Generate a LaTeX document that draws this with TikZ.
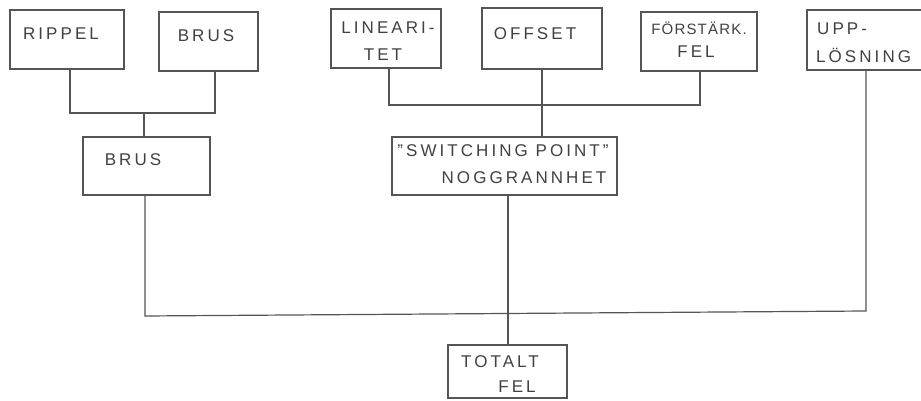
\documentclass[tikz,border=0pt]{standalone}
\usepackage{fontspec}
\setmainfont{Liberation Sans}[LetterSpace=18]
\definecolor{linegray}{RGB}{85,85,85}
\definecolor{textgray}{RGB}{65,65,65}
\begin{document}
\begin{tikzpicture}[x=1pt,y=-1pt,
  box/.style={draw=linegray, line width=1.7pt, inner sep=0pt},
  wire/.style={draw=linegray, line width=1.2pt},
  lbl/.style={text=textgray, font=\fontsize{17}{17}\selectfont, inner sep=0pt},
  smalllbl/.style={text=textgray, font=\fontsize{15}{15}\selectfont\addfontfeature{LetterSpace=8}, inner sep=0pt}]
\useasboundingbox[fill=white] (0,0) rectangle (921,401);

% boxes
\node[box, minimum width=114pt, minimum height=59pt] (rippel) at (67,39.5) {};
\node[box, minimum width=99pt,  minimum height=59pt] (brusA)  at (208.5,41.5) {};
\node[box, minimum width=110pt, minimum height=59pt] (lin)    at (386,38.5) {};
\node[box, minimum width=120pt, minimum height=61pt] (offset) at (542,38.5) {};
\node[box, minimum width=116pt, minimum height=59pt] (forst)  at (699,41.5) {};
\node[box, minimum width=153pt, minimum height=60pt] (upp)    at (883.5,40) {};
\node[box, minimum width=127pt, minimum height=58pt] (brusB)  at (146.5,166) {};
\node[box, minimum width=225pt, minimum height=58pt] (switch) at (504.5,166) {};
\node[box, minimum width=119pt, minimum height=53pt] (totalt) at (507.5,371.5) {};

% labels
\node[lbl] (tRippel) at (61,34) {RIPPEL};
\node[lbl] (tBrusA)  at (206,36) {BRUS};
\node[lbl] (tLin1)   at (388,28) {LINEARI-};
\node[lbl] (tLin2)   at (383,55) {TET};
\node[lbl] (tOffset) at (535,34) {OFFSET};
\node[smalllbl] (tForst1) at (699,28) {FÖRSTÄRK.};
\node[lbl] (tForst2) at (696,52) {FEL};
\node[lbl, anchor=west] (tUpp1) at (817,29) {UPP-};
\node[lbl, anchor=west] (tUpp2) at (816,55) {LÖSNING};
\node[lbl] (tBrusB)  at (133,160) {BRUS};
\node[lbl] (tSw1)    at (503,151) {"SWITCHING POINT"};
\node[lbl] (tSw2)    at (524,178) {NOGGRANNHET};
\node[lbl] (tTot1)   at (500,362) {TOTALT};
\node[lbl] (tTot2)   at (517,387) {FEL};

% connectors
\coordinate (a1) at (70,113);
\coordinate (a2) at (215,113);
\coordinate (a3) at (144,113);
\draw[wire] (rippel.south -| a1) -- (a1) -- (a2) -- (brusA.south -| a2);
\draw[wire] (a3) -- (brusB.north -| a3);

\coordinate (b1) at (389,105);
\coordinate (b2) at (700,105);
\draw[wire] (lin.south -| b1) -- (b1) -- (b2) -- (forst.south -| b2);
\draw[wire] (offset.south) -- (offset.south |- switch.north);

\coordinate (c1) at (145,316);
\coordinate (c2) at (866,311);
\draw[wire] (brusB.south -| c1) -- (c1) -- (c2) -- (upp.south -| c2);

\coordinate (d1) at (508,250);
\draw[wire] (switch.south -| d1) -- (totalt.north -| d1);
\end{tikzpicture}
\end{document}
